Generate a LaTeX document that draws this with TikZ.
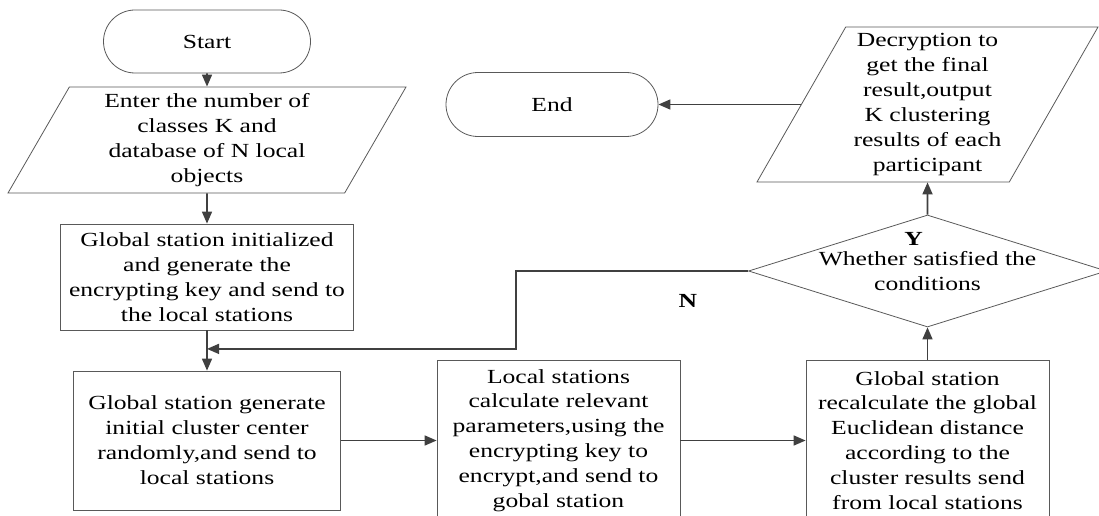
\documentclass[tikz,border=0pt]{standalone}
\usepackage{fontspec}
\setmainfont{Liberation Serif}[FakeStretch=1.28]
\usetikzlibrary{shapes.geometric, arrows.meta, positioning, calc}

\begin{document}
\begin{tikzpicture}[
    font=\fontsize{20pt}{24.9pt}\selectfont,
    terminal/.style={rectangle, rounded corners=31.5pt, minimum width=207pt, minimum height=63pt, text centered, draw=black!65, line width=0.8pt},
    io/.style={trapezium, trapezium stretches body, inner sep=0pt, align=center, draw=black!65, line width=0.8pt},
    process/.style={rectangle, align=center, draw=black!65, line width=0.8pt},
    decision/.style={diamond, aspect=3.2, inner sep=0pt, minimum width=358pt, minimum height=112pt, align=center, draw=black!65, line width=0.8pt},
    answer/.style={font=\fontsize{20pt}{24.9pt}\selectfont\bfseries},
    arrow/.style={line width=1.6pt, draw=black!75, ->, >={Triangle[length=12pt,width=10pt]}}
]
\useasboundingbox (0,0) rectangle (1099pt,-516pt);

\node (start) [terminal] at (207pt,-41.5pt) {Start};
\node (in1) [io, trapezium left angle=56.6, trapezium right angle=123.4, minimum width=398pt, minimum height=106pt, node distance=98.5pt, below of=start] {Enter the number of\\classes K and\\database of N local\\objects};
\node (init) [process, minimum width=293pt, minimum height=106pt, node distance=137pt, below of=in1] {Global station initialized\\and generate the\\encrypting key and send to\\the local stations};
\node (gen) [process, minimum width=267pt, minimum height=139pt, node distance=163.5pt, below of=init] {Global station generate\\initial cluster center\\randomly,and send to\\local stations};
\node (local) [process, minimum width=243pt, minimum height=161pt, node distance=351.5pt, right of=gen] {Local stations\\calculate relevant\\parameters,using the\\encrypting key to\\encrypt,and send to\\gobal station};
\node (recalc) [process, minimum width=243pt, minimum height=161pt, node distance=369pt, right of=local] {Global station\\recalculate the global\\Euclidean distance\\according to the\\cluster results send\\from local stations};
\node (cond) [decision, node distance=169.5pt, above of=recalc] {Whether satisfied the\\conditions};
\node (out) [io, trapezium left angle=58, trapezium right angle=122, minimum width=341pt, minimum height=155pt, node distance=166.5pt, above of=cond] {Decryption to\\get the final\\result,output\\K clustering\\results of each\\participant};
\node (end) [terminal, minimum width=212pt, minimum height=64pt, rounded corners=32pt, node distance=375.5pt, left of=out] {End};
\node (yes) [answer] at ($(cond.center)+(-14pt,32pt)$) {Y};

\coordinate (join) at ($(init.south)!0.46!(gen.north)$);

\draw [arrow] (start) -- (in1);
\draw [arrow] (in1) -- (init);
\draw [arrow] (init) -- (gen);
\draw [arrow] (gen) -- (local);
\draw [arrow] (local) -- (recalc);
\draw [arrow] (recalc) -- (cond);
\draw [arrow] (cond) -- (out);
\draw [arrow] (out.left side) -- (end);
\draw [arrow] (cond.west) -- node (no) [answer, pos=0.26, yshift=-30pt] {N} ++(-232pt,0) |- (join);

\end{tikzpicture}
\end{document}
